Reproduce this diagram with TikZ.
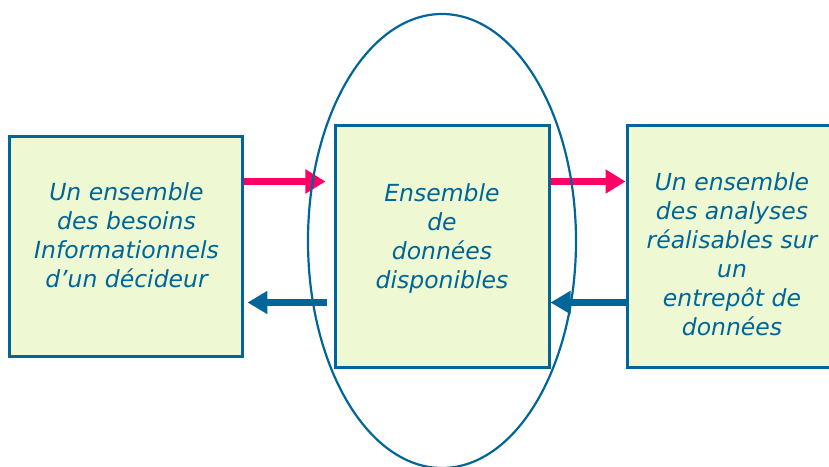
\documentclass[tikz,border=0pt]{standalone}
\usepackage{fontspec}
\setmainfont{DejaVu Sans}
\usepackage{tikz}
\usetikzlibrary{positioning,shapes.geometric,arrows.meta}
\definecolor{bleu}{HTML}{006699}
\definecolor{rose}{HTML}{FF0066}
\definecolor{vert}{HTML}{EEF8D2}
\def\dx{89pt}
\tikzstyle{boite}=[draw=bleu,line width=3pt,fill=vert,inner sep=0pt]
\tikzstyle{texte}=[text=bleu,align=center,font=\fontsize{23.5}{29}\selectfont\itshape]
\tikzstyle{aller}=[draw=rose,line width=7pt,-{Triangle[length=20pt,width=23pt]}]
\tikzstyle{retour}=[draw=bleu,line width=7pt,-{Triangle[length=20pt,width=22pt]}]
\newcommand{\newBox}[5]{\node[boite,#3](#1)[#4]{};
  \node[texte,yshift=#5] (#1-t) at (#1) {#2};}
\newcommand{\newArrow}[3]{\path[#3] (#1) -- (#2);}

\begin{document}
\begin{tikzpicture}[node distance=\dx]
        \path[clip,use as bounding box] (-442pt,-219.5pt) rectangle (387pt,246.5pt);
        \newBox{donnees}{Ensemble\\de\\données\\disponibles}{minimum width=214pt,minimum height=241pt}{}{8pt}
        \newBox{besoins}{Un ensemble\\des besoins\\Informationnels\\d’un décideur}{minimum width=233pt,minimum height=220pt}{left=of donnees}{11pt}
        \newBox{analyses}{Un ensemble\\des analyses\\réalisables sur\\un\\entrepôt de\\données}{minimum width=210pt,minimum height=241pt}{right=75pt of donnees}{-8pt}
        \newArrow{[yshift=65pt]besoins.east}{[yshift=65pt,xshift=-8pt]donnees.west}{aller}
        \newArrow{[yshift=65pt]donnees.east}{[yshift=65pt]analyses.west}{aller}
        \newArrow{[yshift=-56pt,xshift=-6pt]donnees.west}{[yshift=-56pt,xshift=3pt]besoins.east}{retour}
        \newArrow{[yshift=-56pt]analyses.west}{[yshift=-56pt]donnees.east}{retour}
        \node[draw=bleu,line width=2.2pt,ellipse,minimum width=268pt,minimum height=454pt] (zone) at (0,5.5pt) {};
\end{tikzpicture}
\end{document}
